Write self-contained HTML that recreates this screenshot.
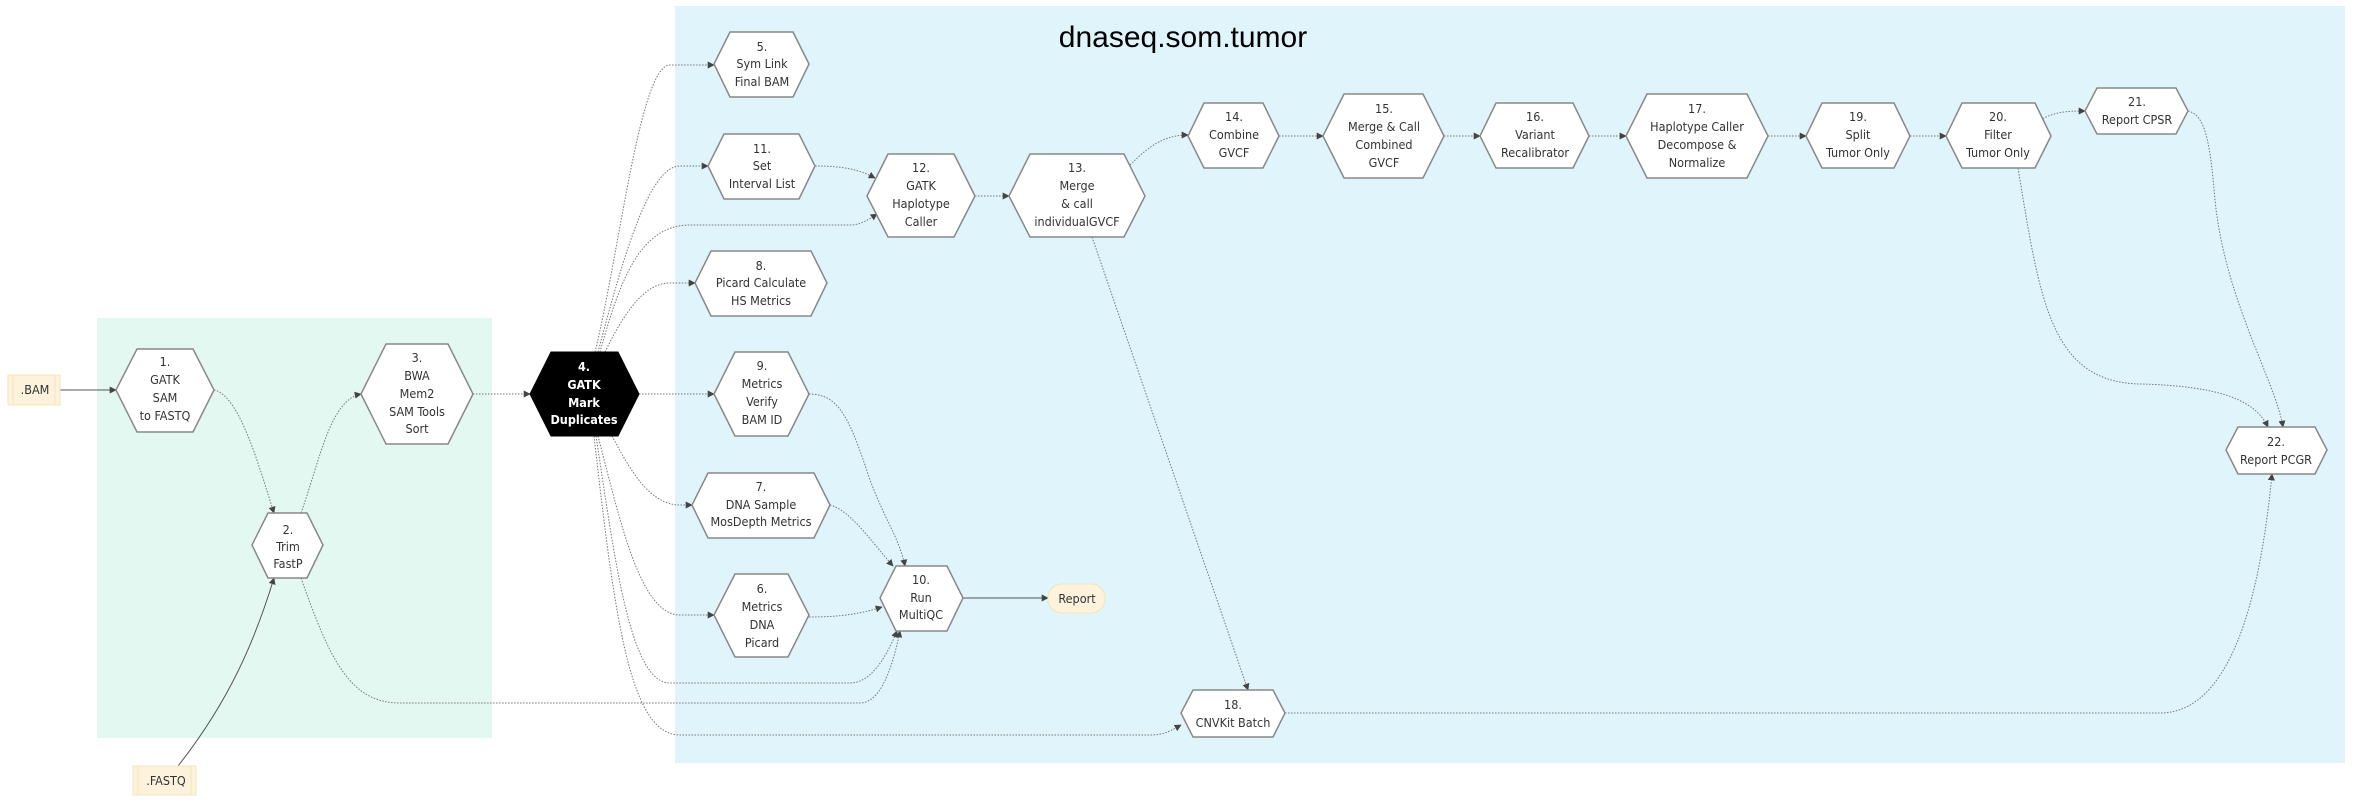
<!DOCTYPE html>
<html><head><meta charset="utf-8"><style>
html,body{margin:0;padding:0;background:#fff;width:2368px;height:806px;overflow:hidden}
svg{display:block}
text{font-family:"DejaVu Sans Condensed","Liberation Sans",sans-serif;font-size:12.5px;fill:#333;text-anchor:middle}
.hx{fill:#fff;stroke:#888;stroke-width:1.5}
.e{fill:none;stroke:#777;stroke-width:1;stroke-dasharray:1.5,1.5}
.s{fill:none;stroke:#555;stroke-width:1}
</style></head><body>
<svg width="2368" height="806" viewBox="0 0 2368 806" xmlns="http://www.w3.org/2000/svg">
<defs><marker id="a" viewBox="0 0 10 10" refX="9" refY="5" markerWidth="7" markerHeight="7" orient="auto"><path d="M0,0L10,5L0,10z" fill="#444"/></marker></defs>
<rect x="97" y="318" width="395" height="420" fill="#e2f8f0"/>
<rect x="675" y="6" width="1670" height="757" fill="#dff4fb"/>
<text x="1183" y="47" style="font-family:'Liberation Sans',sans-serif;font-size:30px;fill:#000">dnaseq.som.tumor</text>

<!-- edges -->
<path class="s" d="M60,390L116,390" marker-end="url(#a)"/>
<path class="e" d="M214,390C240,395 260,470 274,513" marker-end="url(#a)"/>
<path class="s" d="M178,766C230,700 255,640 274,578" marker-end="url(#a)"/>
<path class="e" d="M301,513C320,460 330,400 361,394" marker-end="url(#a)"/>
<path class="e" d="M473,394L530,394" marker-end="url(#a)"/>
<path class="e" d="M595,352C620,250 640,65 670,65L714,65" marker-end="url(#a)"/>
<path class="e" d="M598,352C625,250 650,166 680,166L708,166" marker-end="url(#a)"/>
<path class="e" d="M600,352C620,280 640,225 690,225L850,225C860,225 868,220 877,214" marker-end="url(#a)"/>
<path class="e" d="M605,352C630,300 650,283 670,283L695,283" marker-end="url(#a)"/>
<path class="e" d="M639,394L714,394" marker-end="url(#a)"/>
<path class="e" d="M612,436C630,470 650,505 680,505L692,505" marker-end="url(#a)"/>
<path class="e" d="M598,436C620,520 640,615 680,615L714,615" marker-end="url(#a)"/>
<path class="e" d="M596,436C615,560 630,683 670,683L850,683C870,683 885,660 897,631" marker-end="url(#a)"/>
<path class="e" d="M301,578C330,660 350,703 400,703L860,703C880,703 892,670 900,631" marker-end="url(#a)"/>
<path class="e" d="M594,436C615,620 630,735 680,735L1150,735C1165,735 1172,730 1181,725" marker-end="url(#a)"/>
<path class="e" d="M815,166C845,166 860,170 875,178" marker-end="url(#a)"/>
<path class="e" d="M975,196L1009,196" marker-end="url(#a)"/>
<path class="e" d="M1130,165C1150,145 1165,135 1188,135" marker-end="url(#a)"/>
<path class="e" d="M1092,237L1248,690" marker-end="url(#a)"/>
<path class="e" d="M1279,136L1323,136" marker-end="url(#a)"/>
<path class="e" d="M1444,136L1480,136" marker-end="url(#a)"/>
<path class="e" d="M1589,136L1626,136" marker-end="url(#a)"/>
<path class="e" d="M1768,136L1806,136" marker-end="url(#a)"/>
<path class="e" d="M1910,136L1946,136" marker-end="url(#a)"/>
<path class="e" d="M2040,120C2055,112 2065,111 2085,111" marker-end="url(#a)"/>
<path class="e" d="M2018,168C2040,300 2050,382 2140,384C2220,386 2255,400 2268,427" marker-end="url(#a)"/>
<path class="e" d="M2188,111C2205,115 2210,140 2215,200C2225,300 2275,380 2283,427" marker-end="url(#a)"/>
<path class="e" d="M1285,713L2160,713C2230,713 2260,600 2272,474" marker-end="url(#a)"/>
<path class="e" d="M809,394C840,394 850,420 870,480C885,520 900,540 905,566" marker-end="url(#a)"/>
<path class="e" d="M830,505C850,510 870,540 893,566" marker-end="url(#a)"/>
<path class="e" d="M809,617C840,617 860,614 882,607" marker-end="url(#a)"/>
<path class="s" d="M963,598L1048,598" marker-end="url(#a)"/>

<!-- inputs -->
<rect x="8" y="375" width="52" height="30" fill="#fdf3dc" stroke="#f3e4bb"/>
<line x1="13" y1="375" x2="13" y2="405" stroke="#f3e4bb"/><line x1="55" y1="375" x2="55" y2="405" stroke="#f3e4bb"/>
<text x="35" y="394">.BAM</text>
<rect x="133" y="766" width="63" height="29" fill="#fdf3dc" stroke="#f3e4bb"/>
<line x1="138" y1="766" x2="138" y2="795" stroke="#f3e4bb"/><line x1="191" y1="766" x2="191" y2="795" stroke="#f3e4bb"/>
<text x="166" y="785">.FASTQ</text>
<rect x="1048" y="584" width="57" height="29" rx="14" fill="#fdf3dc" stroke="#f3e4bb"/>
<text x="1077" y="603">Report</text>

<!-- nodes -->
<polygon class="hx" points="137,349 193,349 214,390 193,432 137,432 116,390"/>
<text x="165" y="366">1.</text><text x="165" y="384">GATK</text><text x="165" y="402">SAM</text><text x="165" y="420">to FASTQ</text>
<polygon class="hx" points="268,513 307,513 323,545 307,578 268,578 252,545"/>
<text x="288" y="534">2.</text><text x="288" y="551">Trim</text><text x="288" y="568">FastP</text>
<polygon class="hx" points="386,344 448,344 473,394 448,444 386,444 361,394"/>
<text x="417" y="362">3.</text><text x="417" y="380">BWA</text><text x="417" y="398">Mem2</text><text x="417" y="416">SAM Tools</text><text x="417" y="433">Sort</text>
<polygon points="551,352 618,352 639,394 618,436 551,436 530,394" fill="#000" stroke="#000"/>
<text x="584" y="371" style="fill:#fff;font-weight:bold">4.</text><text x="584" y="389" style="fill:#fff;font-weight:bold">GATK</text><text x="584" y="407" style="fill:#fff;font-weight:bold">Mark</text><text x="584" y="424" style="fill:#fff;font-weight:bold">Duplicates</text>
<polygon class="hx" points="730,32 793,32 809,64 793,97 730,97 714,64"/>
<text x="762" y="51">5.</text><text x="762" y="68">Sym Link</text><text x="762" y="86">Final BAM</text>
<polygon class="hx" points="724,134 799,134 815,166 799,199 724,199 708,166"/>
<text x="762" y="153">11.</text><text x="762" y="170">Set</text><text x="762" y="188">Interval List</text>
<polygon class="hx" points="888,154 954,154 975,196 954,237 888,237 867,196"/>
<text x="921" y="172">12.</text><text x="921" y="190">GATK</text><text x="921" y="208">Haplotype</text><text x="921" y="226">Caller</text>
<polygon class="hx" points="1030,154 1124,154 1145,196 1124,237 1030,237 1009,196"/>
<text x="1077" y="172">13.</text><text x="1077" y="190">Merge</text><text x="1077" y="208">&amp; call</text><text x="1077" y="226">individualGVCF</text>
<polygon class="hx" points="711,251 811,251 827,283 811,316 711,316 695,283"/>
<text x="761" y="270">8.</text><text x="761" y="287">Picard Calculate</text><text x="761" y="305">HS Metrics</text>
<polygon class="hx" points="735,352 788,352 809,394 788,436 735,436 714,394"/>
<text x="762" y="370">9.</text><text x="762" y="388">Metrics</text><text x="762" y="406">Verify</text><text x="762" y="424">BAM ID</text>
<polygon class="hx" points="708,473 814,473 830,505 814,538 708,538 692,505"/>
<text x="761" y="491">7.</text><text x="761" y="509">DNA Sample</text><text x="761" y="526">MosDepth Metrics</text>
<polygon class="hx" points="735,574 788,574 809,615 788,657 735,657 714,615"/>
<text x="762" y="593">6.</text><text x="762" y="611">Metrics</text><text x="762" y="629">DNA</text><text x="762" y="647">Picard</text>
<polygon class="hx" points="896,566 947,566 963,598 947,631 896,631 880,598"/>
<text x="921" y="584">10.</text><text x="921" y="602">Run</text><text x="921" y="619">MultiQC</text>
<polygon class="hx" points="1204,103 1263,103 1279,136 1263,168 1204,168 1188,136"/>
<text x="1234" y="121">14.</text><text x="1234" y="139">Combine</text><text x="1234" y="157">GVCF</text>
<polygon class="hx" points="1344,94 1423,94 1444,136 1423,178 1344,178 1323,136"/>
<text x="1384" y="113">15.</text><text x="1384" y="131">Merge &amp; Call</text><text x="1384" y="149">Combined</text><text x="1384" y="167">GVCF</text>
<polygon class="hx" points="1496,103 1573,103 1589,136 1573,168 1496,168 1480,136"/>
<text x="1535" y="121">16.</text><text x="1535" y="139">Variant</text><text x="1535" y="157">Recalibrator</text>
<polygon class="hx" points="1647,94 1747,94 1768,136 1747,178 1647,178 1626,136"/>
<text x="1697" y="113">17.</text><text x="1697" y="131">Haplotype Caller</text><text x="1697" y="149">Decompose &amp;</text><text x="1697" y="167">Normalize</text>
<polygon class="hx" points="1822,103 1894,103 1910,136 1894,168 1822,168 1806,136"/>
<text x="1858" y="121">19.</text><text x="1858" y="139">Split</text><text x="1858" y="157">Tumor Only</text>
<polygon class="hx" points="1962,103 2035,103 2051,136 2035,168 1962,168 1946,136"/>
<text x="1998" y="121">20.</text><text x="1998" y="139">Filter</text><text x="1998" y="157">Tumor Only</text>
<polygon class="hx" points="2097,88 2176,88 2188,111 2176,134 2097,134 2085,111"/>
<text x="2137" y="106">21.</text><text x="2137" y="124">Report CPSR</text>
<polygon class="hx" points="2238,427 2315,427 2327,450 2315,474 2238,474 2226,450"/>
<text x="2276" y="446">22.</text><text x="2276" y="464">Report PCGR</text>
<polygon class="hx" points="1193,690 1273,690 1285,713 1273,737 1193,737 1181,713"/>
<text x="1233" y="709">18.</text><text x="1233" y="727">CNVKit Batch</text>
</svg>
</body></html>
